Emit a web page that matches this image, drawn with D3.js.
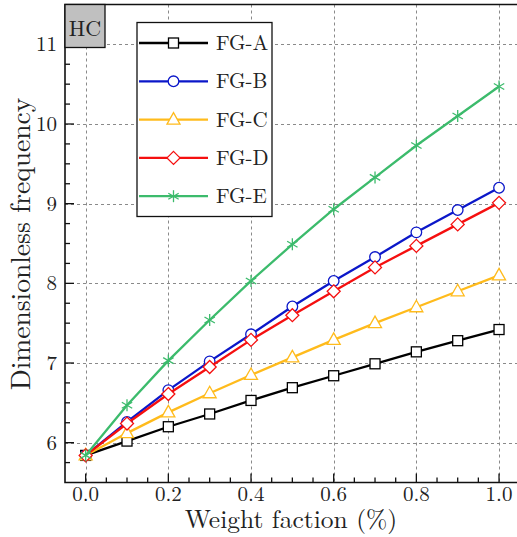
<!DOCTYPE html>
<html lang="en">
<head>
<meta charset="UTF-8">
<title>HC dimensionless frequency</title>
<script src="https://d3js.org/d3.v7.min.js"></script>
<style>
  html, body { margin: 0; padding: 0; background: #fff; overflow: hidden; }
  svg { display: block; }
</style>
</head>
<body>
<svg id="chart"></svg>
<script>
// data
const weight = [0.0, 0.1, 0.2, 0.3, 0.4, 0.5, 0.6, 0.7, 0.8, 0.9, 1.0];
const fgA = [5.84, 6.02, 6.20, 6.36, 6.53, 6.69, 6.84, 6.99, 7.14, 7.28, 7.42];
const fgB = [5.84, 6.26, 6.66, 7.02, 7.36, 7.71, 8.03, 8.33, 8.64, 8.92, 9.20];
const fgC = [5.84, 6.12, 6.38, 6.62, 6.85, 7.07, 7.29, 7.50, 7.70, 7.90, 8.10];
const fgD = [5.84, 6.24, 6.61, 6.95, 7.29, 7.60, 7.90, 8.20, 8.47, 8.74, 9.01];
const fgE = [5.84, 6.47, 7.03, 7.54, 8.03, 8.49, 8.93, 9.33, 9.73, 10.10, 10.47];
const seriesNames = ["FG-A", "FG-B", "FG-C", "FG-D", "FG-E"];
const xTicks = [0.0, 0.2, 0.4, 0.6, 0.8, 1.0];
const yTicks = [6, 7, 8, 9, 10, 11];

const series = [
  {name: seriesNames[0], values: fgA, color: "#000000", marker: "square"},
  {name: seriesNames[1], values: fgB, color: "#0b17c9", marker: "circle"},
  {name: seriesNames[2], values: fgC, color: "#ffbb1c", marker: "triangle"},
  {name: seriesNames[3], values: fgD, color: "#f50f0f", marker: "diamond"},
  {name: seriesNames[4], values: fgE, color: "#3cbb6c", marker: "star"}
];

const width = 517, height = 537;
const font = "'Latin Modern Roman', 'CMU Serif', 'Liberation Serif', serif";

const svg = d3.select("#chart").attr("width", width).attr("height", height)
  .attr("font-family", font);

// the right side of the frame falls just outside the picture
const x = d3.scaleLinear().domain([-0.05, 1.05]).range([65, 519.7]);
const y = d3.scaleLinear().domain([5.5, 11.5]).range([482.5, 4.5]);
const x0 = x(-0.05), x1 = x(1.05), y0 = y(5.5), y1 = y(11.5);

// grid
const grid = svg.append("g").attr("stroke", "#8a8a8a").attr("stroke-width", 1).attr("stroke-dasharray", "3,3");
grid.selectAll("line.gx").data(xTicks).join("line").attr("class", "gx")
  .attr("x1", d => Math.round(x(d)) + 0.5).attr("x2", d => Math.round(x(d)) + 0.5)
  .attr("y1", y1).attr("y2", y0);
grid.selectAll("line.gy").data(yTicks).join("line").attr("class", "gy")
  .attr("x1", x0).attr("x2", x1)
  .attr("y1", d => Math.round(y(d)) + 0.5).attr("y2", d => Math.round(y(d)) + 0.5);

// ticks (inward)
const ticks = svg.append("g").attr("stroke", "#111").attr("stroke-width", 1.3);
const xMinor = d3.range(0, 21).map(i => i * 0.05);
ticks.selectAll("line.tx").data(xMinor).join("line").attr("class", "tx")
  .attr("x1", d => x(d)).attr("x2", d => x(d))
  .attr("y1", y0).attr("y2", d => y0 - (Math.abs(d * 5 - Math.round(d * 5)) < 1e-6 ? 9 : 5));
const yMinor = d3.range(1, 24).map(i => 5.5 + i * 0.25);
ticks.selectAll("line.ty").data(yMinor).join("line").attr("class", "ty")
  .attr("y1", d => y(d)).attr("y2", d => y(d))
  .attr("x1", x0).attr("x2", d => x0 + (Number.isInteger(d) ? 9 : 5));

// tick labels
svg.append("g").selectAll("text").data(xTicks).join("text")
  .attr("x", d => x(d)).attr("y", 501)
  .attr("text-anchor", "middle").attr("font-size", 21).attr("fill", "#222")
  .text(d => d3.format(".1f")(d));
svg.append("g").selectAll("text").data(yTicks).join("text")
  .attr("x", 57).attr("y", d => y(d)).attr("dy", "0.33em")
  .attr("text-anchor", "end").attr("font-size", 21).attr("fill", "#222")
  .text(d => d);

// axis titles
svg.append("text").attr("x", 291).attr("y", 528)
  .attr("text-anchor", "middle").attr("font-size", 25.5).attr("fill", "#222")
  .text("Weight faction (%)");
svg.append("text").attr("transform", "translate(30,244) rotate(-90)")
  .attr("text-anchor", "middle").attr("font-size", 27.5).attr("fill", "#222")
  .text("Dimensionless frequency");

// markers
function drawMarker(g, type, color, cx, cy) {
  if (type === "square") {
    g.append("rect").attr("x", cx - 5).attr("y", cy - 5).attr("width", 10).attr("height", 10)
      .attr("fill", "#fff").attr("stroke", color).attr("stroke-width", 1.3);
  } else if (type === "circle") {
    g.append("circle").attr("cx", cx).attr("cy", cy).attr("r", 5.3)
      .attr("fill", "#fff").attr("stroke", color).attr("stroke-width", 1.3);
  } else if (type === "triangle") {
    g.append("path").attr("d", `M${cx},${cy - 7}L${cx + 6.5},${cy + 4.5}L${cx - 6.5},${cy + 4.5}Z`)
      .attr("fill", "#fff").attr("stroke", color).attr("stroke-width", 1.3);
  } else if (type === "diamond") {
    g.append("path").attr("d", `M${cx},${cy - 6.5}L${cx + 6.5},${cy}L${cx},${cy + 6.5}L${cx - 6.5},${cy}Z`)
      .attr("fill", "#fff").attr("stroke", color).attr("stroke-width", 1.3);
  } else if (type === "star") {
    const r = 6;
    [90, 30, -30].forEach(a => {
      const rad = a * Math.PI / 180;
      g.append("line")
        .attr("x1", cx - r * Math.cos(rad)).attr("y1", cy - r * Math.sin(rad))
        .attr("x2", cx + r * Math.cos(rad)).attr("y2", cy + r * Math.sin(rad))
        .attr("stroke", color).attr("stroke-width", 1.3);
    });
  }
}

const line = d3.line().x(d => x(d[0])).y(d => y(d[1]));
const plot = svg.append("g");
series.forEach(s => {
  const pts = weight.map((w, i) => [w, s.values[i]]);
  plot.append("path").datum(pts).attr("d", line)
    .attr("fill", "none").attr("stroke", s.color).attr("stroke-width", 2.3);
  const mg = plot.append("g");
  pts.forEach(p => drawMarker(mg, s.marker, s.color, x(p[0]), y(p[1])));
});

// frame: left, top, bottom (right edge is outside the picture)
svg.append("path")
  .attr("d", `M${x1 + 5},${y1}H${x0}V${y0}H${x1 + 5}`)
  .attr("fill", "none").attr("stroke", "#111").attr("stroke-width", 1.6);

// HC label box
svg.append("rect").attr("x", x0).attr("y", y1).attr("width", 40).attr("height", 43)
  .attr("fill", "#c0c0c0").attr("stroke", "#111").attr("stroke-width", 1.3);
svg.append("text").attr("x", x0 + 20).attr("y", y1 + 31).attr("text-anchor", "middle")
  .attr("font-size", 22).attr("fill", "#222").text("HC");

// legend
const lg = svg.append("g");
lg.append("rect").attr("x", 137).attr("y", 22.5).attr("width", 135).attr("height", 194)
  .attr("fill", "#fff").attr("stroke", "#111").attr("stroke-width", 1.3);
series.forEach((s, i) => {
  const ly = 43 + i * 38.3;
  lg.append("line").attr("x1", 139).attr("x2", 208).attr("y1", ly).attr("y2", ly)
    .attr("stroke", s.color).attr("stroke-width", 2.3);
  drawMarker(lg, s.marker, s.color, 173.5, ly);
  lg.append("text").attr("x", 216).attr("y", ly).attr("dy", "0.33em")
    .attr("font-size", 21).attr("fill", "#222").text(s.name);
});
</script>
</body>
</html>
